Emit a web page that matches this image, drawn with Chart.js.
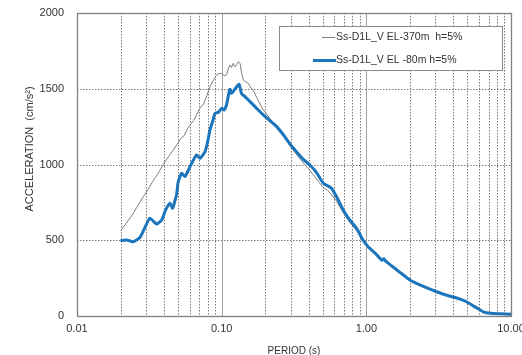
<!DOCTYPE html>
<html><head><meta charset="utf-8">
<script src="https://cdn.jsdelivr.net/npm/chart.js@4/dist/chart.umd.min.js"></script>
<style>html,body{margin:0;padding:0;background:#fff}#wrap{width:522px;height:355px;position:relative}</style>
</head><body><div id="wrap"><canvas id="c" width="522" height="355"></canvas></div>
<script>
const seriesLabels = ['Ss-D1L_V EL-370m  h=5%', 'Ss-D1L_V EL -80m h=5%'];
const xAxisTitle = 'PERIOD (s)';
const yAxisTitle = 'ACCELERATION  (cm/s\u00B2)';

const periods370 = [0.020, 0.022, 0.024, 0.026, 0.0287, 0.031, 0.033, 0.036, 0.0395, 0.042, 0.0463, 0.049, 0.052, 0.055, 0.058, 0.0604, 0.064, 0.0708, 0.075, 0.079, 0.083, 0.088, 0.0923, 0.096, 0.100, 0.104, 0.108, 0.111, 0.114, 0.117, 0.120, 0.124, 0.127, 0.130, 0.134, 0.137, 0.141, 0.147, 0.153, 0.160, 0.165, 0.175, 0.194, 0.215, 0.24, 0.27, 0.30, 0.34, 0.37, 0.40, 0.44, 0.50, 0.54, 0.575, 0.62, 0.69, 0.76, 0.86, 0.95, 1.03, 1.15, 1.30, 1.34, 1.45, 1.65, 1.9, 2.0, 2.35, 2.7, 3.0, 3.5, 4.0, 4.5, 4.9, 5.5, 6.4, 7.2, 8.5, 10];
const accel370 = [561, 615, 665, 720, 787, 835, 880, 935, 1000, 1040, 1096, 1130, 1170, 1190, 1235, 1261, 1290, 1371, 1400, 1455, 1513, 1560, 1591, 1600, 1602, 1585, 1591, 1630, 1657, 1640, 1668, 1645, 1660, 1679, 1668, 1610, 1558, 1545, 1536, 1503, 1492, 1440, 1360, 1305, 1250, 1185, 1115, 1050, 1005, 970, 920, 850, 830, 800, 760, 685, 625, 560, 500, 457, 410, 365, 372, 335, 290, 250, 238, 205, 180, 160, 138, 123, 108, 94, 72, 30, 18, 12, 8];

const periods80 = [0.020, 0.022, 0.0245, 0.0273, 0.030, 0.0319, 0.0338, 0.0355, 0.0385, 0.041, 0.044, 0.0458, 0.0475, 0.0488, 0.0501, 0.0529, 0.0558, 0.059, 0.062, 0.067, 0.0708, 0.0767, 0.080, 0.083, 0.087, 0.090, 0.095, 0.100, 0.104, 0.108, 0.111, 0.114, 0.117, 0.120, 0.124, 0.127, 0.132, 0.137, 0.145, 0.153, 0.163, 0.174, 0.194, 0.215, 0.24, 0.27, 0.30, 0.321, 0.344, 0.37, 0.407, 0.45, 0.504, 0.54, 0.575, 0.62, 0.692, 0.76, 0.857, 0.95, 1.03, 1.15, 1.28, 1.32, 1.36, 1.5, 1.7, 2.0, 2.35, 2.7, 3.06, 3.5, 3.99, 4.5, 4.93, 5.6, 6.43, 7.2, 8.5, 10];
const accel80 = [497, 502, 490, 520, 600, 645, 625, 607, 634, 700, 744, 711, 760, 800, 886, 942, 920, 965, 1008, 1063, 1041, 1085, 1150, 1228, 1290, 1338, 1345, 1371, 1360, 1393, 1450, 1497, 1470, 1481, 1500, 1513, 1529, 1470, 1448, 1426, 1400, 1371, 1327, 1290, 1250, 1190, 1129, 1096, 1063, 1030, 997, 950, 876, 860, 843, 790, 700, 640, 579, 500, 457, 415, 368, 378, 362, 330, 290, 238, 205, 180, 160, 140, 125, 110, 94, 62, 28, 18, 15, 12];

const xGridValues = [0.01,0.02,0.03,0.04,0.05,0.06,0.07,0.08,0.09,0.1,0.2,0.3,0.4,0.5,0.6,0.7,0.8,0.9,1,2,3,4,5,6,7,8,9,10];
const xMajorValues = [0.01, 0.1, 1, 10];
const yTickValues = [0, 500, 1000, 1500, 2000];

function isMajor(v){ return xMajorValues.some(m => Math.abs(m - v) < m * 1e-6); }
function toPoints(xs, ys){ return xs.map((x, i) => ({x: x, y: ys[i]})); }

const gridPlugin = {
  id: 'grid',
  beforeDatasetsDraw(chart){
    const {ctx, chartArea: a, scales: {x, y}} = chart;
    ctx.save();
    ctx.lineWidth = 1;
    xGridValues.forEach(v => {
      const px = Math.round(x.getPixelForValue(v)) + 0.5;
      if (isMajor(v)) { ctx.setLineDash([]); ctx.strokeStyle = '#a0a0a0'; }
      else { ctx.setLineDash([1.5, 1.5]); ctx.strokeStyle = '#7a7a7a'; }
      ctx.beginPath(); ctx.moveTo(px, a.top); ctx.lineTo(px, a.bottom); ctx.stroke();
    });
    ctx.setLineDash([1.5, 1.5]); ctx.strokeStyle = '#7a7a7a';
    yTickValues.forEach(v => {
      const py = Math.round(y.getPixelForValue(v)) + 0.5;
      ctx.beginPath(); ctx.moveTo(a.left, py); ctx.lineTo(a.right, py); ctx.stroke();
    });
    ctx.restore();
  },
  afterDatasetsDraw(chart){
    const {ctx, chartArea: a} = chart;
    ctx.save();
    ctx.setLineDash([]);
    ctx.strokeStyle = '#808080'; ctx.lineWidth = 1.3;
    ctx.strokeRect(Math.round(a.left)+0.5, Math.round(a.top)+0.5, Math.round(a.right - a.left), Math.round(a.bottom - a.top));
    // legend box
    const lx = 279, ly = 26, lw = 223, lh = 44;
    ctx.fillStyle = '#fff';
    ctx.fillRect(lx, ly, lw, lh);
    ctx.strokeStyle = '#8a8a8a'; ctx.lineWidth = 1;
    ctx.strokeRect(lx + 0.5, ly + 0.5, lw, lh);
    const ds = chart.data.datasets;
    ctx.font = '10.5px "Liberation Sans", Arial, sans-serif';
    ctx.fillStyle = '#333'; ctx.textBaseline = 'middle'; ctx.textAlign = 'left';
    // entry 1
    ctx.strokeStyle = ds[0].borderColor; ctx.lineWidth = ds[0].borderWidth;
    ctx.beginPath(); ctx.moveTo(322, 37.5); ctx.lineTo(335, 37.5); ctx.stroke();
    ctx.fillText(ds[0].label, 336, 37);
    // entry 2
    ctx.strokeStyle = ds[1].borderColor; ctx.lineWidth = ds[1].borderWidth;
    ctx.beginPath(); ctx.moveTo(313, 60.5); ctx.lineTo(336, 60.5); ctx.stroke();
    ctx.fillText(ds[1].label, 336, 60.5);
    ctx.restore();
  },
  afterDraw(chart){
    const {ctx, chartArea: a} = chart;
    ctx.save();
    ctx.fillStyle = '#333';
    ctx.font = '10px "Liberation Sans", Arial, sans-serif';
    ctx.textAlign = 'center'; ctx.textBaseline = 'middle';
    ctx.fillText(xAxisTitle, (a.left + a.right) / 2, 351);
    ctx.translate(30, 149);
    ctx.rotate(-Math.PI / 2);
    ctx.font = '11px "Liberation Sans", Arial, sans-serif';
    ctx.fillText(yAxisTitle, 0, 0);
    ctx.restore();
  }
};

new Chart(document.getElementById('c'), {
  type: 'line',
  data: {
    datasets: [
      { label: seriesLabels[0], data: toPoints(periods370, accel370), borderColor: '#7d7d7d', borderWidth: 1, pointRadius: 0, fill: false, tension: 0, order: 1 },
      { label: seriesLabels[1], data: toPoints(periods80, accel80), borderColor: '#1b75bc', borderWidth: 3, pointRadius: 0, fill: false, tension: 0.2, order: 0 }
    ]
  },
  options: {
    responsive: false,
    animation: false,
    devicePixelRatio: 1,
    layout: { padding: { left: 0, right: 11, top: 13, bottom: 0 } },
    plugins: { legend: { display: false }, tooltip: { enabled: false }, title: { display: false } },
    scales: {
      x: {
        type: 'logarithmic', min: 0.01, max: 10,
        grid: { display: false, drawTicks: false },
        border: { display: false },
        afterBuildTicks(scale){ scale.ticks = xGridValues.map(v => ({value: v})); },
        afterFit(scale){ scale.height = 39; scale.paddingLeft = 0; scale.paddingRight = 0; },
        ticks: {
          autoSkip: false, maxRotation: 0, padding: 6.5, color: '#333',
          font: { family: '"Liberation Sans", Arial, sans-serif', size: 11 },
          callback(value){ return isMajor(value) ? Number(value).toFixed(2) : ''; }
        }
      },
      y: {
        min: 0, max: 2000,
        grid: { display: false, drawTicks: false },
        border: { display: false },
        afterBuildTicks(scale){ scale.ticks = yTickValues.map(v => ({value: v})); },
        afterFit(scale){ scale.width = 77; scale.paddingTop = 0; scale.paddingBottom = 0; },
        ticks: {
          padding: 13, color: '#333',
          font: { family: '"Liberation Sans", Arial, sans-serif', size: 11 },
          callback(value){ return String(value); }
        }
      }
    }
  },
  plugins: [gridPlugin]
});
</script>
</body></html>
